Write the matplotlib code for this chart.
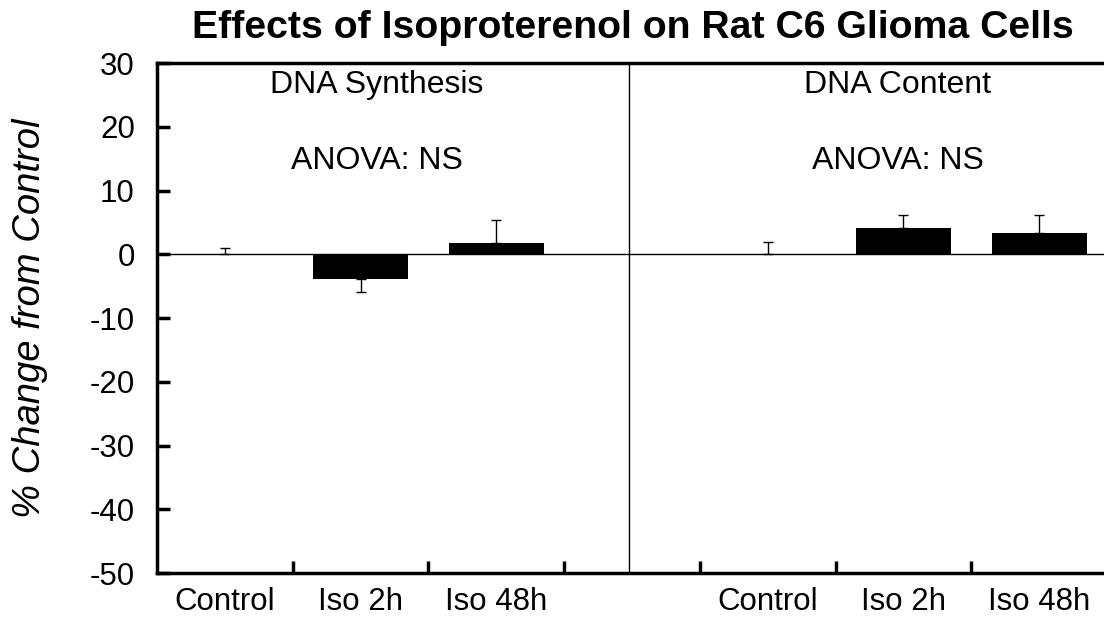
import numpy as np
import matplotlib.pyplot as plt

plt.switch_backend("agg")
plt.rcParams['font.family'] = ['Liberation Sans', 'DejaVu Sans']
plt.rcParams['axes.unicode_minus'] = False

groups = ["Control", "Iso 2h", "Iso 48h"]
panels = ["DNA Synthesis", "DNA Content"]
synthesis = [0.0, -3.9, 1.7]
synthesis_err = [1.0, 2.0, 3.7]
content = [0.0, 4.1, 3.3]
content_err = [1.9, 2.0, 2.9]

fig = plt.figure(figsize=(11.04, 6.19), dpi=100)
ax = fig.add_axes([0.1422, 0.0743, 0.8605, 0.8239])

x_left = np.arange(len(groups)) + 0.5
x_right = x_left + 4.0

for xs, vals, errs in [(x_left, synthesis, synthesis_err), (x_right, content, content_err)]:
    vals = np.array(vals)
    errs = np.array(errs)
    ax.bar(xs, vals, width=0.7, color="black", zorder=3)
    lower = np.where(vals < 0, errs, 0)
    upper = np.where(vals >= 0, errs, 0)
    ax.errorbar(xs, vals, yerr=[lower, upper], fmt="none", ecolor="black",
                elinewidth=1.0, capsize=3.6, capthick=1.0, zorder=4)

ax.axhline(0, color="black", lw=1.0, zorder=2)
ax.axvline(3.48, color="black", lw=1.0, zorder=2)

ax.set_xlim(0, 7)
ax.set_ylim(-50, 30)
ax.set_yticks(np.arange(-50, 31, 10))
ax.set_xticks([1, 2, 3, 4, 5, 6])
ax.set_xticklabels([])
ax.set_xticks(list(x_left) + list(x_right), minor=True)
ax.set_xticklabels(groups + groups, minor=True)
ax.tick_params(axis="x", which="minor", length=0, pad=10, labelsize=22.5)
ax.tick_params(axis="x", which="major", direction="in", length=9, width=2.5)
ax.tick_params(axis="y", direction="in", length=9, width=2.5, labelsize=22.5, pad=16)

for side in ["left", "bottom", "top"]:
    ax.spines[side].set_linewidth(2.5)
ax.spines["right"].set_visible(False)

ax.text(1.62, 26.5, panels[0], ha="center", va="center", fontsize=23)
ax.text(1.62, 14.7, "ANOVA: NS", ha="center", va="center", fontsize=23)
ax.text(5.46, 26.5, panels[1], ha="center", va="center", fontsize=23)
ax.text(5.46, 14.7, "ANOVA: NS", ha="center", va="center", fontsize=23)

ax.set_ylabel("% Change from Control", fontsize=27.5, style="italic", labelpad=30)
fig.text(0.573, 0.955, "Effects of Isoproterenol on Rat C6 Glioma Cells",
         ha="center", va="center", fontsize=28.3, fontweight="bold")

fig.savefig("out.png", dpi=100)
